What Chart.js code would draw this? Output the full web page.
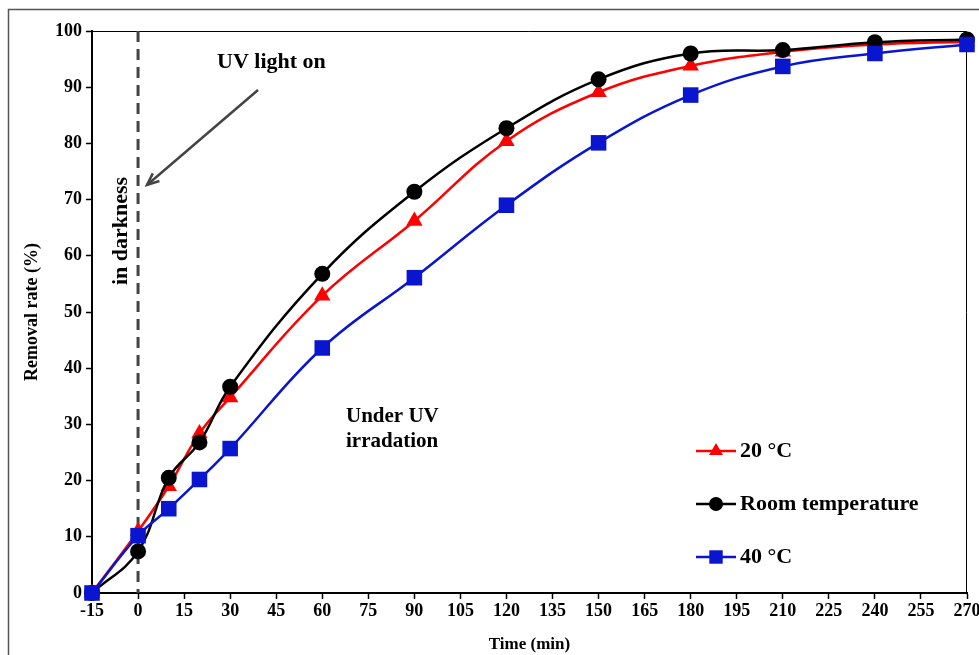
<!DOCTYPE html>
<html><head><meta charset="utf-8">
<script src="https://cdn.jsdelivr.net/npm/chart.js@4/dist/chart.umd.min.js"></script>
<style>html,body{margin:0;padding:0;background:#fff}</style>
</head><body>
<canvas id="c" width="979" height="655"></canvas>
<script>
// ---- data ----
const times = [-15, 0, 10, 20, 30, 60, 90, 120, 150, 180, 210, 240, 270];
const temp20 = [0, 11.0, 19.0, 28.4, 34.8, 52.9, 66.2, 80.4, 89.1, 93.8, 96.3, 97.6, 98.1];
const roomTemp = [0, 7.4, 20.5, 26.8, 36.7, 56.8, 71.4, 82.7, 91.4, 96.0, 96.6, 98.0, 98.5];
const temp40 = [0, 10.2, 15.0, 20.2, 25.7, 43.6, 56.1, 69.0, 80.1, 88.6, 93.7, 96.0, 97.6];
const seriesNames = ['20 °C', 'Room temperature', '40 °C'];
const xRange = [-15, 270];
const xStep = 15;
const yRange = [0, 100];
const yStep = 10;
const xTitle = 'Time (min)';
const yTitle = 'Removal rate (%)';

const FONT = "'Liberation Serif', 'Times New Roman', serif";
const RED = '#ff0000', BLACK = '#000000', BLUE = '#0a15d0';

const toXY = arr => arr.map((v, i) => ({x: times[i], y: v}));

const datasets = [
  {label: seriesNames[0], data: toXY(temp20), borderColor: RED, backgroundColor: RED,
   pointStyle: 'triangle', pointRadius: 9.5, order: 3},
  {label: seriesNames[1], data: toXY(roomTemp), borderColor: BLACK, backgroundColor: BLACK,
   pointStyle: 'circle', pointRadius: 8, order: 2},
  {label: seriesNames[2], data: toXY(temp40), borderColor: BLUE, backgroundColor: BLUE,
   pointStyle: 'rect', pointRadius: 11, order: 1}
].map(d => Object.assign({borderWidth: 2.5, tension: 0.4, fill: false, clip: false,
  pointBorderWidth: 0, pointHoverRadius: d.pointRadius}, d));

const deco = {
  id: 'deco',
  beforeDraw(chart) {
    const ctx = chart.ctx;
    ctx.save();
    ctx.strokeStyle = '#555';
    ctx.lineWidth = 1.5;
    ctx.beginPath();
    ctx.moveTo(8.5, 655); ctx.lineTo(8.5, 9.5); ctx.lineTo(979, 9.5);
    ctx.stroke();
    ctx.restore();
  },
  beforeDatasetsDraw(chart) {
    const {ctx, chartArea: a, scales} = chart;
    ctx.save();
    ctx.strokeStyle = '#000'; ctx.lineWidth = 1;
    ctx.beginPath();
    ctx.moveTo(a.left, a.top + 0.5); ctx.lineTo(a.right - 0.5, a.top + 0.5); ctx.lineTo(a.right - 0.5, a.bottom);
    ctx.stroke();
    const x0 = scales.x.getPixelForValue(0);
    ctx.strokeStyle = '#444'; ctx.lineWidth = 3;
    ctx.setLineDash([11, 7]);
    ctx.beginPath();
    ctx.moveTo(x0, a.top); ctx.lineTo(x0, a.bottom);
    ctx.stroke();
    ctx.restore();
  },
  afterDatasetsDraw(chart) {
    const ctx = chart.ctx;
    ctx.save();
    ctx.fillStyle = '#000';
    ctx.font = 'bold 22px ' + FONT;
    ctx.textBaseline = 'middle';
    ctx.textAlign = 'left';
    ctx.fillText('UV light on', 217, 62);
    ctx.font = 'bold 21px ' + FONT;
    ctx.fillText('Under UV', 346, 417);
    ctx.fillText('irradation', 346, 442);
    ctx.save();
    ctx.font = 'bold 22px ' + FONT;
    ctx.translate(121, 231);
    ctx.rotate(-Math.PI / 2);
    ctx.textAlign = 'center';
    ctx.fillText('in darkness', 0, 0);
    ctx.restore();
    ctx.strokeStyle = '#444'; ctx.lineWidth = 2.5;
    const x1 = 258, y1 = 90, x2 = 147, y2 = 185;
    ctx.beginPath(); ctx.moveTo(x1, y1); ctx.lineTo(x2, y2); ctx.stroke();
    const ang = Math.atan2(y2 - y1, x2 - x1);
    ctx.beginPath();
    ctx.moveTo(x2 - 13 * Math.cos(ang - 0.4), y2 - 13 * Math.sin(ang - 0.4));
    ctx.lineTo(x2, y2);
    ctx.lineTo(x2 - 13 * Math.cos(ang + 0.4), y2 - 13 * Math.sin(ang + 0.4));
    ctx.stroke();
    const ly = [451, 504, 557];
    const lr = [8, 7, 9.5];
    chart.data.datasets.forEach((ds, i) => {
      ctx.strokeStyle = ds.borderColor; ctx.lineWidth = 2.5;
      ctx.beginPath(); ctx.moveTo(696, ly[i]); ctx.lineTo(736, ly[i]); ctx.stroke();
      ctx.fillStyle = ds.backgroundColor;
      Chart.helpers.drawPoint(ctx, {pointStyle: ds.pointStyle, radius: lr[i], rotation: 0, borderWidth: 0}, 716, ly[i]);
      ctx.fillStyle = '#000';
      ctx.font = 'bold 22px ' + FONT;
      ctx.fillText(ds.label, 740, ly[i]);
    });
    ctx.restore();
  }
};

new Chart(document.getElementById('c'), {
  type: 'line',
  data: {datasets},
  options: {
    responsive: false,
    animation: false,
    layout: {padding: {left: 0, top: 31, right: 12, bottom: 0}},
    plugins: {legend: {display: false}, tooltip: {enabled: false}},
    scales: {
      x: {
        type: 'linear', min: xRange[0], max: xRange[1],
        ticks: {stepSize: xStep, autoSkip: false, maxRotation: 0, color: '#000', padding: 2,
                font: {family: FONT, weight: 'bold', size: 18}},
        grid: {drawOnChartArea: false, tickLength: 6, color: '#000', tickWidth: 1.5},
        border: {color: '#000', width: 2},
        title: {display: true, text: xTitle, color: '#000', padding: {top: 9, bottom: 0},
                font: {family: FONT, weight: 'bold', size: 17}},
        afterFit(s) { s.height = 62; s.paddingRight = 0; s.paddingLeft = 0; }
      },
      y: {
        min: yRange[0], max: yRange[1],
        ticks: {stepSize: yStep, color: '#000', padding: 4,
                font: {family: FONT, weight: 'bold', size: 18}},
        grid: {drawOnChartArea: false, tickLength: 6, color: '#000', tickWidth: 1.5},
        border: {color: '#000', width: 2},
        title: {display: true, text: yTitle, color: '#000', padding: {top: 22, bottom: 0},
                font: {family: FONT, weight: 'bold', size: 18}},
        afterFit(s) { s.width = 92; s.paddingTop = 0; s.paddingBottom = 0; }
      }
    }
  },
  plugins: [deco]
});
</script>
</body></html>
